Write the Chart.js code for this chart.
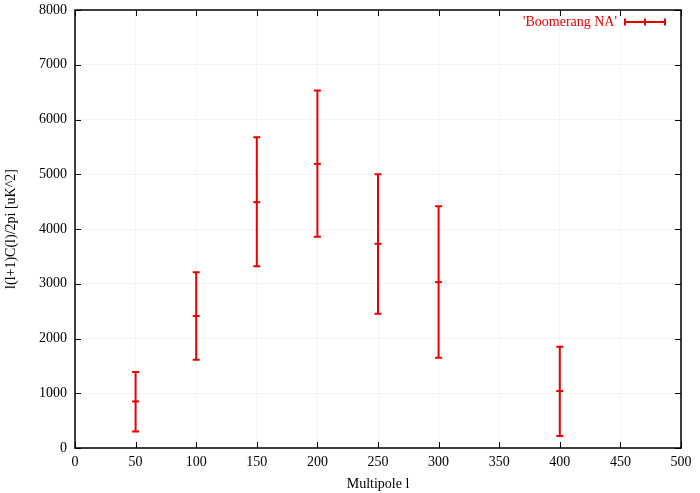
<!DOCTYPE html>
<html>
<head>
<meta charset="utf-8">
<script src="https://cdn.jsdelivr.net/npm/chart.js@4.4.1/dist/chart.umd.min.js"></script>
<style>
  html, body { margin: 0; padding: 0; background: #fff; }
  #wrap { width: 700px; height: 493px; }
</style>
</head>
<body>
<div id="wrap"><canvas id="chart" width="700" height="493"></canvas></div>
<script>
// multipole l
const multipoles = [50, 100, 150, 200, 250, 300, 400];
// l(l+1)C(l)/2pi [uK^2]
const power = [850, 2410, 4490, 5190, 3730, 3030, 1040];
const powerLow = [300, 1610, 3320, 3860, 2450, 1650, 220];
const powerHigh = [1390, 3210, 5675, 6530, 5000, 4415, 1850];

const xTicks = [0, 50, 100, 150, 200, 250, 300, 350, 400, 450, 500];
const yTicks = [0, 1000, 2000, 3000, 4000, 5000, 6000, 7000, 8000];
const seriesName = "'Boomerang NA'";

const RED = '#e80000';
const FONT = '"Liberation Serif", "DejaVu Serif", serif';

// error bars, inner ticks, frame and key, gnuplot style
const gnuplotLook = {
  id: 'gnuplotLook',
  afterDatasetsDraw(chart) {
    const ctx = chart.ctx;
    const xs = chart.scales.x;
    const ys = chart.scales.y;
    ctx.save();
    ctx.strokeStyle = RED;
    ctx.lineWidth = 2;
    multipoles.forEach((l, i) => {
      const px = xs.getPixelForValue(l);
      const lo = ys.getPixelForValue(powerLow[i]);
      const hi = ys.getPixelForValue(powerHigh[i]);
      ctx.beginPath();
      ctx.moveTo(px, lo); ctx.lineTo(px, hi);
      ctx.moveTo(px - 3.5, lo); ctx.lineTo(px + 3.5, lo);
      ctx.moveTo(px - 3.5, hi); ctx.lineTo(px + 3.5, hi);
      ctx.stroke();
    });
    ctx.restore();
  },
  afterDraw(chart) {
    const ctx = chart.ctx;
    const a = chart.chartArea;
    const xs = chart.scales.x;
    const ys = chart.scales.y;
    ctx.save();
    ctx.strokeStyle = '#000';
    ctx.lineWidth = 1;
    ctx.beginPath();
    xTicks.forEach(v => {
      const px = Math.round(xs.getPixelForValue(v)) + 0.5;
      ctx.moveTo(px, a.bottom); ctx.lineTo(px, a.bottom - 6);
      ctx.moveTo(px, a.top); ctx.lineTo(px, a.top + 6);
    });
    yTicks.forEach(v => {
      const py = Math.round(ys.getPixelForValue(v)) + 0.5;
      ctx.moveTo(a.left, py); ctx.lineTo(a.left + 6, py);
      ctx.moveTo(a.right, py); ctx.lineTo(a.right - 6, py);
    });
    ctx.stroke();
    ctx.lineWidth = 1.5;
    ctx.strokeRect(a.left, a.top, a.right - a.left, a.bottom - a.top);

    // key
    ctx.font = '14px ' + FONT;
    ctx.fillStyle = RED;
    ctx.textAlign = 'right';
    ctx.textBaseline = 'middle';
    const ky = a.top + 12;
    const kx = a.right - 56;
    ctx.fillText(seriesName, kx - 8, ky);
    ctx.strokeStyle = RED;
    ctx.lineWidth = 2;
    ctx.beginPath();
    ctx.moveTo(kx, ky); ctx.lineTo(kx + 40, ky);
    [kx, kx + 20, kx + 40].forEach(cx => {
      ctx.moveTo(cx, ky - 3.5); ctx.lineTo(cx, ky + 3.5);
    });
    ctx.stroke();
    ctx.restore();
  }
};

const ctx = document.getElementById('chart').getContext('2d');
new Chart(ctx, {
  type: 'scatter',
  data: {
    datasets: [{
      label: seriesName,
      data: multipoles.map((l, i) => ({x: l, y: power[i]})),
      pointStyle: 'line',
      pointRadius: 3.5,
      borderColor: RED,
      backgroundColor: RED,
      borderWidth: 2,
      showLine: false,
    }],
  },
  plugins: [gnuplotLook],
  options: {
    responsive: false,
    animation: false,
    layout: { padding: { top: 10, right: 19, left: 3, bottom: 0 } },
    plugins: {
      legend: { display: false },
      tooltip: { enabled: false },
    },
    scales: {
      x: {
        type: 'linear',
        min: 0,
        max: 500,
        afterBuildTicks: s => { s.ticks = xTicks.map(v => ({value: v})); },
        afterFit: s => { s.height = 45; s.paddingLeft = 0; s.paddingRight = 0; },
        grid: { color: '#f4f4f4', drawTicks: false },
        border: { display: false },
        ticks: { color: '#000', font: { family: FONT, size: 14 }, padding: 6, maxRotation: 0,
                 callback: v => String(v) },
        title: {
          display: true,
          text: 'Multipole l',
          color: '#000',
          font: { family: FONT, size: 14 },
          padding: { top: 2, bottom: 0 },
        },
      },
      y: {
        type: 'linear',
        min: 0,
        max: 8000,
        afterBuildTicks: s => { s.ticks = yTicks.map(v => ({value: v})); },
        afterFit: s => { s.width = 72; s.paddingTop = 0; s.paddingBottom = 0; },
        grid: { color: '#f4f4f4', drawTicks: false },
        border: { display: false },
        ticks: { color: '#000', font: { family: FONT, size: 14 }, padding: 8,
                 callback: v => String(v) },
        title: {
          display: true,
          text: 'l(l+1)C(l)/2pi [uK^2]',
          color: '#000',
          font: { family: FONT, size: 14 },
          padding: { top: 0, bottom: 0 },
        },
      },
    },
  },
});
</script>
</body>
</html>
